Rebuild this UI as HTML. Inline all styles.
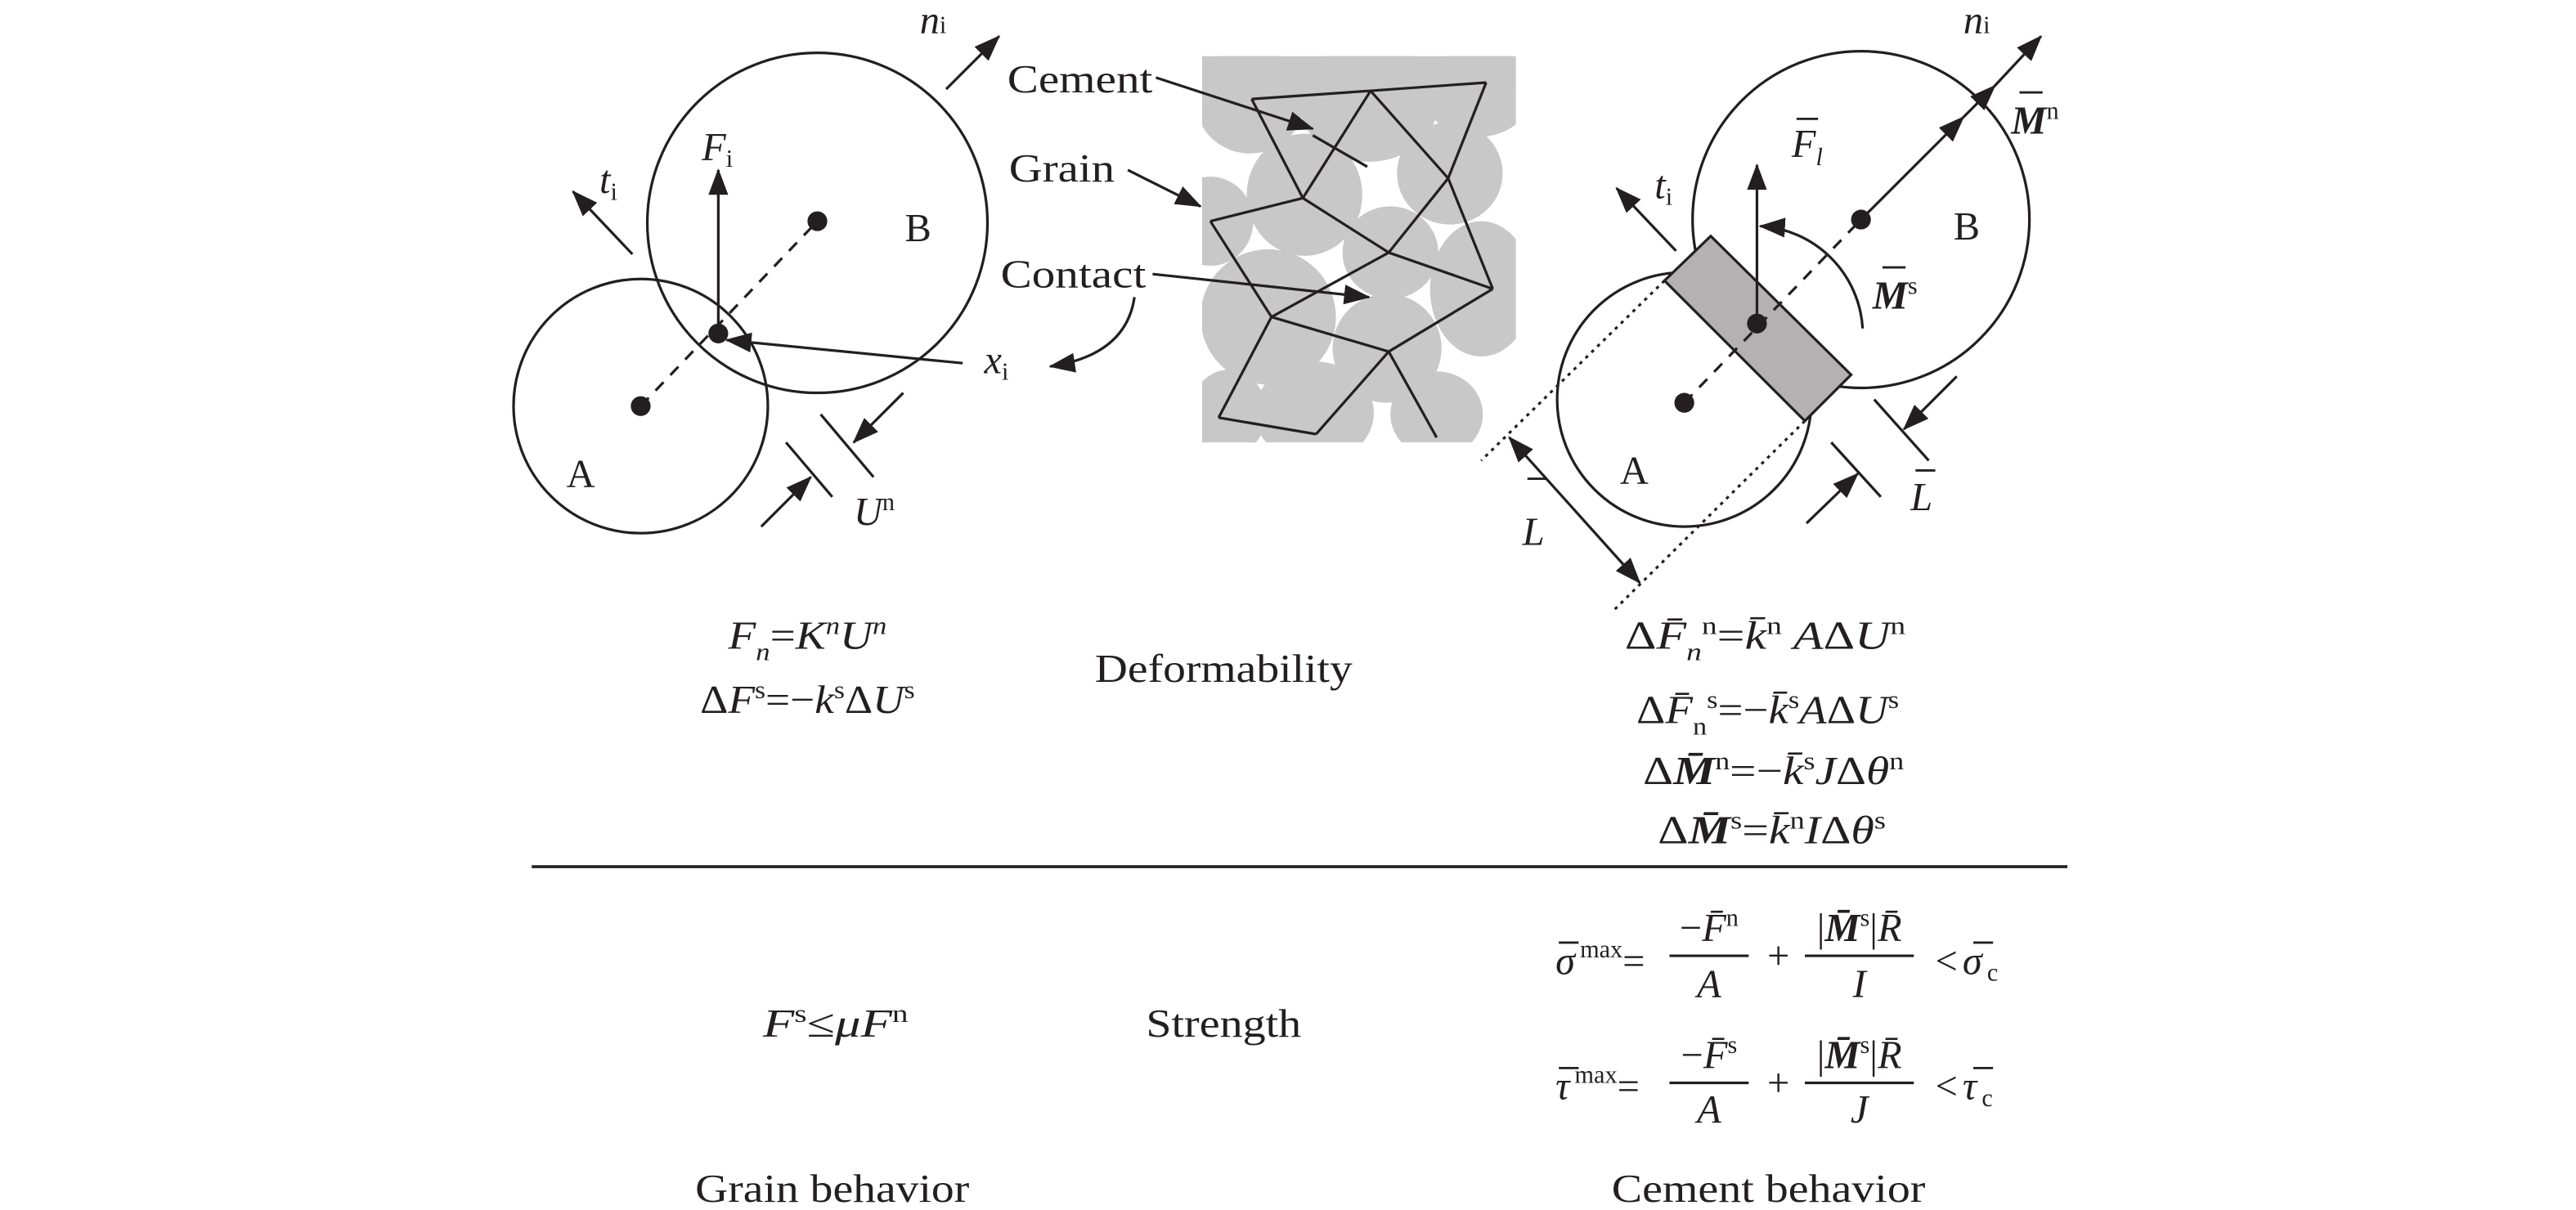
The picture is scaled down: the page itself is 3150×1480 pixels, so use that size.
<!DOCTYPE html>
<html><head><meta charset="utf-8"><style>
html,body{margin:0;padding:0;background:#fff;}
svg{display:block;}
text{font-family:"Liberation Serif",serif;fill:#231f20;}
.i{font-style:italic;}
</style></head><body>
<svg width="3150" height="1480" viewBox="0 0 1560 733" preserveAspectRatio="none" xmlns="http://www.w3.org/2000/svg">
<defs>
<marker id="ah" markerUnits="userSpaceOnUse" markerWidth="16" markerHeight="12" refX="15" refY="6" orient="auto">
<path d="M0,0 L16,6 L0,12 z" fill="#231f20"/></marker>
<marker id="as" markerUnits="userSpaceOnUse" markerWidth="16" markerHeight="12" refX="1" refY="6" orient="auto">
<path d="M16,0 L0,6 L16,12 z" fill="#231f20"/></marker>
<clipPath id="gc"><rect x="728" y="34" width="190" height="234"/></clipPath>
</defs>
<g stroke="#231f20" stroke-width="1.6" fill="none">
<circle cx="388" cy="246" r="77"/>
<circle cx="495" cy="135" r="103"/>
<line x1="388" y1="246" x2="495" y2="134" stroke-dasharray="7,6"/>
<line x1="435" y1="202" x2="435" y2="103" marker-end="url(#ah)"/>
<line x1="383" y1="154" x2="347" y2="116" marker-end="url(#ah)"/>
<line x1="573" y1="54" x2="605" y2="22" marker-end="url(#ah)"/>
<line x1="583" y1="220" x2="440" y2="206" marker-end="url(#ah)"/>
<path d="M687,180 Q682,215 636,222" marker-end="url(#ah)"/>
<line x1="497" y1="251" x2="529" y2="289"/>
<line x1="476" y1="268" x2="504" y2="301"/>
<line x1="547" y1="238" x2="517" y2="268" marker-end="url(#ah)"/>
<line x1="461" y1="319" x2="491" y2="289" marker-end="url(#ah)"/>
</g>
<g fill="#231f20"><circle cx="388" cy="246" r="6"/><circle cx="495" cy="134" r="6"/><circle cx="435" cy="202" r="6"/></g>
<g clip-path="url(#gc)" fill="#c8c8c8">
<ellipse cx="757" cy="61" rx="33" ry="32"/>
<ellipse cx="829" cy="62" rx="42" ry="36"/>
<ellipse cx="895" cy="56" rx="33" ry="27"/>
<ellipse cx="790" cy="118" rx="35" ry="37"/>
<ellipse cx="733" cy="134" rx="26" ry="27"/>
<ellipse cx="878" cy="105" rx="32" ry="31"/>
<ellipse cx="842" cy="153" rx="29" ry="28"/>
<ellipse cx="897" cy="175" rx="31" ry="41"/>
<ellipse cx="768" cy="192" rx="41" ry="41"/>
<ellipse cx="840" cy="211" rx="33" ry="33"/>
<ellipse cx="744" cy="250" rx="23" ry="26"/>
<ellipse cx="796" cy="250" rx="36" ry="31"/>
<ellipse cx="870" cy="251" rx="28" ry="26"/>
<rect x="728" y="34" width="190" height="20"/>
</g>
<g stroke="#231f20" stroke-width="1.6" fill="none">
<polyline points="758,60 830,55 900,50"/>
<line x1="758" y1="60" x2="789" y2="120"/>
<line x1="830" y1="55" x2="789" y2="120"/>
<line x1="830" y1="55" x2="877" y2="108"/>
<line x1="900" y1="50" x2="877" y2="108"/>
<line x1="789" y1="120" x2="733" y2="134"/>
<line x1="789" y1="120" x2="841" y2="153"/>
<line x1="877" y1="108" x2="841" y2="153"/>
<line x1="877" y1="108" x2="904" y2="175"/>
<line x1="841" y1="153" x2="904" y2="175"/>
<line x1="733" y1="134" x2="770" y2="192"/>
<line x1="841" y1="153" x2="770" y2="192"/>
<line x1="770" y1="192" x2="841" y2="213"/>
<line x1="904" y1="175" x2="841" y2="213"/>
<line x1="770" y1="192" x2="738" y2="253"/>
<line x1="738" y1="253" x2="797" y2="263"/>
<line x1="841" y1="213" x2="797" y2="263"/>
<line x1="841" y1="213" x2="870" y2="265"/>
<line x1="795" y1="82" x2="828" y2="101"/>
<line x1="700" y1="47" x2="795" y2="78" marker-end="url(#ah)"/>
<line x1="683" y1="103" x2="727" y2="125" marker-end="url(#ah)"/>
<line x1="698" y1="166" x2="829" y2="180" marker-end="url(#ah)"/>
</g>
<g stroke="#231f20" stroke-width="1.6" fill="none">
<circle cx="1020" cy="242" r="77"/>
<circle cx="1127" cy="133" r="102"/>
<polygon points="1008,170 1036,143 1121,227 1093,255" fill="#b3b1b2"/>
<line x1="1020" y1="244" x2="1127" y2="133" stroke-dasharray="7,6"/>
<line x1="1064" y1="196" x2="1064" y2="100" marker-end="url(#ah)"/>
<line x1="1015" y1="152" x2="979" y2="114" marker-end="url(#ah)"/>
<line x1="1127" y1="133" x2="1189" y2="71" marker-end="url(#ah)"/>
<line x1="1189" y1="71" x2="1208" y2="52" marker-end="url(#ah)"/>
<line x1="1208" y1="52" x2="1236" y2="22" marker-end="url(#ah)"/>
<path d="M1128,199 A66,66 0 0 0 1066,137" marker-end="url(#ah)"/>
<line x1="1008" y1="170" x2="897" y2="279" stroke-dasharray="2,3"/>
<line x1="1093" y1="255" x2="977" y2="370" stroke-dasharray="2,3"/>
<line x1="914" y1="265" x2="993" y2="353" marker-start="url(#as)" marker-end="url(#ah)"/>
<line x1="1135" y1="242" x2="1168" y2="279"/>
<line x1="1109" y1="268" x2="1139" y2="301"/>
<line x1="1185" y1="228" x2="1153" y2="260" marker-end="url(#ah)"/>
<line x1="1094" y1="317" x2="1125" y2="287" marker-end="url(#ah)"/>
<line x1="322" y1="525" x2="1252" y2="525" stroke-width="1.8"/>
<line x1="1011" y1="579" x2="1059" y2="579"/>
<line x1="1093" y1="579" x2="1159" y2="579"/>
<line x1="1011" y1="656" x2="1059" y2="656"/>
<line x1="1093" y1="656" x2="1159" y2="656"/>
</g>
<g fill="#231f20"><circle cx="1020" cy="244" r="6"/><circle cx="1127" cy="133" r="6"/><circle cx="1064" cy="196" r="6"/></g>
<g stroke="#231f20" stroke-width="1.4">
<line x1="1088" y1="72" x2="1101" y2="72"/>
<line x1="1223" y1="56" x2="1237" y2="56"/>
<line x1="1140" y1="162" x2="1154" y2="162"/>
<line x1="925" y1="290" x2="937" y2="290"/>
<line x1="1160" y1="285" x2="1172" y2="285"/>
<line x1="944" y1="571" x2="956" y2="571"/>
<line x1="1195" y1="571" x2="1207" y2="571"/>
<line x1="944" y1="647" x2="956" y2="647"/>
<line x1="1195" y1="647" x2="1207" y2="647"/>
</g>
<g font-size="24">
<text x="557" y="20" class="i">n<tspan font-style="normal" font-size="15">i</tspan></text>
<text x="425" y="97" class="i">F<tspan font-style="normal" font-size="15" dy="4">i</tspan></text>
<text x="363" y="117" class="i">t<tspan font-style="normal" font-size="15" dy="4">i</tspan></text>
<text x="548" y="146">B</text>
<text x="343" y="295">A</text>
<text x="596" y="226" class="i">x<tspan font-style="normal" font-size="15" dy="4">i</tspan></text>
<text x="517" y="318" class="i">U<tspan font-style="normal" font-size="15" dy="-9">n</tspan></text>
<text x="610" y="56" textLength="88" lengthAdjust="spacingAndGlyphs">Cement</text>
<text x="611" y="110" textLength="64" lengthAdjust="spacingAndGlyphs">Grain</text>
<text x="606" y="174" textLength="88" lengthAdjust="spacingAndGlyphs">Contact</text>
<text x="1189" y="20" class="i">n<tspan font-style="normal" font-size="15">i</tspan></text>
<text x="1085" y="95" class="i">F<tspan font-size="15" dy="5">l</tspan></text>
<text x="1002" y="120" class="i">t<tspan font-style="normal" font-size="15" dy="4">i</tspan></text>
<text x="1218" y="81" class="i" font-weight="bold">M<tspan font-style="normal" font-weight="normal" font-size="15" dy="-9">n</tspan></text>
<text x="1134" y="187" class="i" font-weight="bold">M<tspan font-style="normal" font-weight="normal" font-size="15" dy="-9">s</tspan></text>
<text x="1183" y="145">B</text>
<text x="981" y="293">A</text>
<text x="922" y="330" class="i">L</text>
<text x="1157" y="309" class="i">L</text>
</g>
<g font-size="24">
<text x="441" y="393" textLength="96" lengthAdjust="spacingAndGlyphs"><tspan class="i">F</tspan><tspan class="i" font-size="15" dy="7">n</tspan><tspan dy="-7">=</tspan><tspan class="i">K</tspan><tspan class="i" font-size="15" dy="-9">n</tspan><tspan class="i" dy="9">U</tspan><tspan class="i" font-size="15" dy="-9">n</tspan></text>
<text x="424" y="432" textLength="130" lengthAdjust="spacingAndGlyphs">Δ<tspan class="i">F</tspan><tspan font-size="15" dy="-9">s</tspan><tspan dy="9">=−</tspan><tspan class="i">k</tspan><tspan font-size="15" dy="-9">s</tspan><tspan dy="9">Δ</tspan><tspan class="i">U</tspan><tspan font-size="15" dy="-9">s</tspan></text>
<text x="663" y="413" textLength="156" lengthAdjust="spacingAndGlyphs">Deformability</text>
<text x="984" y="393" textLength="170" lengthAdjust="spacingAndGlyphs">Δ<tspan class="i">F̄</tspan><tspan class="i" font-size="15" dy="7">n</tspan><tspan font-size="15" dy="-16">n</tspan><tspan dy="9">=</tspan><tspan class="i">k̄</tspan><tspan font-size="15" dy="-9">n</tspan><tspan class="i" dy="9"> A</tspan>Δ<tspan class="i">U</tspan><tspan font-size="15" dy="-9">n</tspan></text>
<text x="991" y="438" textLength="159" lengthAdjust="spacingAndGlyphs">Δ<tspan class="i">F̄</tspan><tspan font-size="15" dy="7">n</tspan><tspan font-size="15" dy="-16">s</tspan><tspan dy="9">=−</tspan><tspan class="i">k̄</tspan><tspan font-size="15" dy="-9">s</tspan><tspan class="i" dy="9">A</tspan>Δ<tspan class="i">U</tspan><tspan font-size="15" dy="-9">s</tspan></text>
<text x="995" y="475" textLength="158" lengthAdjust="spacingAndGlyphs">Δ<tspan class="i" font-weight="bold">M̄</tspan><tspan font-size="15" dy="-9">n</tspan><tspan dy="9">=−</tspan><tspan class="i">k̄</tspan><tspan font-size="15" dy="-9">s</tspan><tspan class="i" dy="9">J</tspan>Δ<tspan class="i">θ</tspan><tspan font-size="15" dy="-9">n</tspan></text>
<text x="1004" y="511" textLength="138" lengthAdjust="spacingAndGlyphs">Δ<tspan class="i" font-weight="bold">M̄</tspan><tspan font-size="15" dy="-9">s</tspan><tspan dy="9">=</tspan><tspan class="i">k̄</tspan><tspan font-size="15" dy="-9">n</tspan><tspan class="i" dy="9">I</tspan>Δ<tspan class="i">θ</tspan><tspan font-size="15" dy="-9">s</tspan></text>
<text x="462" y="628" textLength="88" lengthAdjust="spacingAndGlyphs"><tspan class="i">F</tspan><tspan font-size="15" dy="-9">s</tspan><tspan dy="9">≤</tspan><tspan class="i">μF</tspan><tspan font-size="15" dy="-9">n</tspan></text>
<text x="694" y="628" textLength="94" lengthAdjust="spacingAndGlyphs">Strength</text>
<text x="421" y="728" textLength="166" lengthAdjust="spacingAndGlyphs">Grain behavior</text>
<text x="976" y="728" textLength="190" lengthAdjust="spacingAndGlyphs">Cement behavior</text>
<text x="942" y="590"><tspan class="i">σ</tspan><tspan font-size="15" dx="3" dy="-10">max</tspan><tspan dy="10">=</tspan></text>
<text x="1035" y="570" text-anchor="middle">−<tspan class="i">F̄</tspan><tspan font-size="15" dy="-9">n</tspan></text>
<text x="1035" y="604" text-anchor="middle" class="i">A</text>
<text x="1077" y="587" text-anchor="middle">+</text>
<text x="1126" y="570" text-anchor="middle">|<tspan class="i" font-weight="bold">M̄</tspan><tspan font-size="15" dy="-9">s</tspan><tspan dy="9">|</tspan><tspan class="i">R̄</tspan></text>
<text x="1126" y="604" text-anchor="middle" class="i">I</text>
<text x="1172" y="590">&lt;<tspan class="i" dx="3">σ</tspan><tspan font-size="15" dx="3" dy="4">c</tspan></text>
<text x="942" y="666"><tspan class="i">τ</tspan><tspan font-size="15" dx="3" dy="-10">max</tspan><tspan dy="10">=</tspan></text>
<text x="1035" y="647" text-anchor="middle">−<tspan class="i">F̄</tspan><tspan font-size="15" dy="-9">s</tspan></text>
<text x="1035" y="680" text-anchor="middle" class="i">A</text>
<text x="1077" y="664" text-anchor="middle">+</text>
<text x="1126" y="647" text-anchor="middle">|<tspan class="i" font-weight="bold">M̄</tspan><tspan font-size="15" dy="-9">s</tspan><tspan dy="9">|</tspan><tspan class="i">R̄</tspan></text>
<text x="1126" y="680" text-anchor="middle" class="i">J</text>
<text x="1172" y="666">&lt;<tspan class="i" dx="3">τ</tspan><tspan font-size="15" dx="3" dy="4">c</tspan></text>
</g>
</svg>
</body></html>
